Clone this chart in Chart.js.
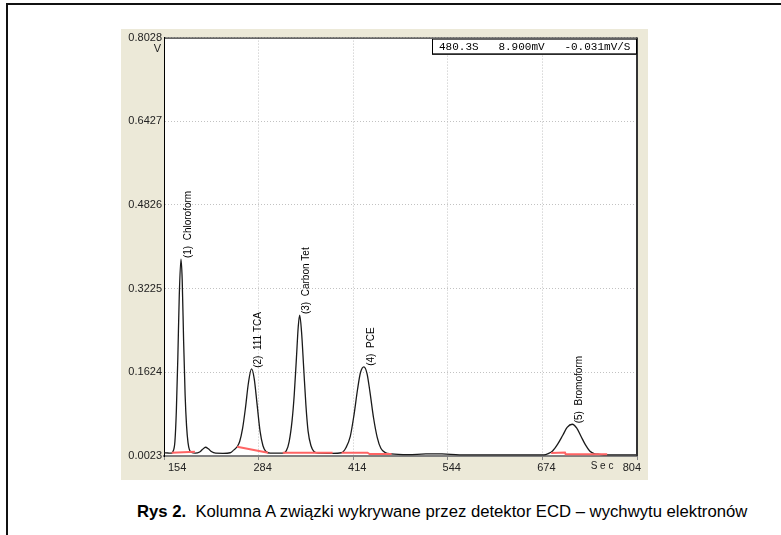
<!DOCTYPE html>
<html>
<head>
<meta charset="utf-8">
<script src="https://cdn.jsdelivr.net/npm/chart.js@4/dist/chart.umd.min.js"></script>
<style>
  html, body { margin: 0; padding: 0; background: #fff; }
  body { width: 781px; height: 535px; position: relative; overflow: hidden; }
  .frame { position: absolute; left: 6px; top: 3px; width: 900px; height: 600px;
           border-left: 2px solid #111; border-top: 2px solid #111; }
  .panel { position: absolute; left: 121px; top: 29px; width: 527px; height: 451px; background: #ECE9D8; }
  #chromChart { position: absolute; left: 121px; top: 29px; }
  .caption { position: absolute; left: 137px; top: 502px; font: 16.7px "Liberation Sans", Arial, sans-serif;
             color: #000; white-space: nowrap; }
  .caption b { font-weight: bold; }
</style>
</head>
<body>
<div class="frame"></div>
<div class="panel"></div>
<canvas id="chromChart" width="527" height="451"></canvas>
<div class="caption"><b>Rys 2.</b>&nbsp; Kolumna A związki wykrywane przez detektor ECD – wychwytu elektronów</div>

<script>
/* ================================================================
   Chromatogram — Kolumna A, detektor ECD
   • black trace = detector signal (V) vs time (s)
   • red segments = integration baselines under each peak
================================================================ */

/* ── Axis ticks ── */
const xTicks = [154, 284, 414, 544, 674, 804];
const yTicks = [0.0023, 0.1624, 0.3225, 0.4826, 0.6427, 0.8028];

/* ── Detector signal ── */
const traceTime = [
  154, 160, 164.6, 166, 169, 171, 173, 175, 177.3, 179, 181, 183, 185, 187, 189, 192, 197,
  203, 207, 211, 215, 219, 225, 235, 245, 250, 254.5, 258, 262, 266, 270, 274.3, 278, 282,
  286, 290, 294, 300, 317, 322, 326, 330, 333, 336, 338.5, 340.5, 343, 346, 349, 352, 356,
  360, 366, 385, 398, 404, 410, 415, 420, 424, 428.7, 433, 437, 442, 447, 452, 458, 466,
  490, 514, 536, 560, 620, 676, 682, 688, 695, 702, 708, 715, 721, 727, 733, 739, 745,
  752, 765, 804
];
const traceVolt = [
  0.0085, 0.0080, 0.0078, 0.010, 0.030, 0.090, 0.190, 0.310, 0.379, 0.340, 0.220, 0.120, 0.060, 0.028, 0.014, 0.009, 0.0078,
  0.010, 0.015, 0.019, 0.016, 0.011, 0.0078, 0.0075, 0.0085, 0.014, 0.020, 0.030, 0.055, 0.095, 0.142, 0.169, 0.150, 0.100,
  0.050, 0.022, 0.011, 0.0078, 0.0078, 0.012, 0.030, 0.070, 0.120, 0.190, 0.250, 0.272, 0.240, 0.170, 0.100, 0.050, 0.022,
  0.011, 0.0078, 0.0075, 0.0085, 0.018, 0.040, 0.080, 0.130, 0.162, 0.173, 0.160, 0.125, 0.075, 0.038, 0.017, 0.009, 0.0065,
  0.005, 0.0062, 0.0062, 0.0045, 0.0045, 0.0045, 0.007, 0.012, 0.025, 0.042, 0.057, 0.063, 0.056, 0.040, 0.024, 0.012, 0.007,
  0.0055, 0.0045, 0.0045
];

/* ── Integration baselines (null = gap between segments) ── */
const baseTime = [164.6, 196.5, 200, 254.5, 297, 300, 317.2, 385.7, 390, 398, 433.7, 436.5, 466.7, 470, 686, 705, 706, 763];
const baseVolt = [0.0085, 0.0105, null, 0.020, 0.0086, null, 0.0086, 0.0086, null, 0.0086, 0.0086, 0.0061, 0.0061, null, 0.0080, 0.0090, 0.0058, 0.0058];

/* ── Peak annotations ── */
const peakNames   = ["(1)  Chloroform", "(2)  111 TCA", "(3)  Carbon Tet", "(4)  PCE", "(5)  Bromoform"];
const peakTimes   = [177.3, 274.3, 340.5, 428.7, 715];
const peakHeights = [0.379, 0.169, 0.272, 0.173, 0.063];

/* ── Cursor readout ── */
const readout = "480.3S   8.900mV   -0.031mV/S";
const SEC_AT  = 756;

/* ================================================================
   STYLE
================================================================ */
const FONT = '"Liberation Sans", Arial, sans-serif';
const MONO = '"Liberation Mono", "Courier New", monospace';
const GRID = "#c2c2c2";
const TICK = "#222";

const toPts = (xs, ys) => xs.map((x, i) => ({ x, y: ys[i] }));

/* white plot area on the beige panel */
const plotBg = {
  id: "plotBg",
  beforeDraw(chart) {
    const { ctx, chartArea: a } = chart;
    ctx.save();
    ctx.fillStyle = "#fff";
    ctx.fillRect(a.left, a.top, a.right - a.left, a.bottom - a.top);
    ctx.restore();
  },
};

/* frame, readout box, unit labels, peak names */
const overlay = {
  id: "overlay",
  afterDraw(chart) {
    const { ctx, chartArea: a, scales } = chart;
    ctx.save();
    ctx.setLineDash([]);

    /* top + right frame */
    ctx.strokeStyle = "#000"; ctx.lineWidth = 1;
    ctx.beginPath(); ctx.moveTo(a.left, a.top + 0.5); ctx.lineTo(a.right, a.top + 0.5); ctx.stroke();
    ctx.strokeStyle = "#333"; ctx.lineWidth = 2;
    ctx.beginPath(); ctx.moveTo(a.right, a.top); ctx.lineTo(a.right, a.bottom); ctx.stroke();

    /* readout box */
    const bw = 205, bh = 16, bx = a.right - bw, by = a.top + 1;
    ctx.fillStyle = "#fff"; ctx.fillRect(bx, by, bw, bh);
    ctx.strokeStyle = "#000"; ctx.lineWidth = 1;
    ctx.strokeRect(bx + 0.5, by + 0.5, bw - 1, bh - 1);
    ctx.beginPath(); ctx.moveTo(bx, by + bh - 0.5); ctx.lineTo(bx + bw, by + bh - 0.5); ctx.stroke();
    ctx.fillStyle = "#000"; ctx.font = "11px " + MONO;
    ctx.textAlign = "left"; ctx.textBaseline = "middle";
    ctx.fillText(readout, bx + 7, by + bh / 2);

    /* units */
    ctx.font = "11px " + FONT; ctx.fillStyle = TICK;
    ctx.textAlign = "right";
    ctx.fillText("V", a.left - 3, a.top + 11);
    ctx.textAlign = "center"; ctx.textBaseline = "top";
    ctx.font = "10px " + FONT;
    ctx.fillText("S e c", scales.x.getPixelForValue(SEC_AT), a.bottom + 5);

    /* peak names, rotated */
    ctx.font = "10px " + FONT; ctx.fillStyle = "#000";
    ctx.textAlign = "left"; ctx.textBaseline = "middle";
    peakNames.forEach((name, i) => {
      const px = scales.x.getPixelForValue(peakTimes[i]);
      const py = scales.y.getPixelForValue(peakHeights[i]);
      ctx.save();
      ctx.translate(px + 7, py - 1);
      ctx.rotate(-Math.PI / 2);
      ctx.fillText(name, 0, 0);
      ctx.restore();
    });
    ctx.restore();
  },
};

/* ================================================================
   CHART
================================================================ */
const chromChart = new Chart(document.getElementById("chromChart").getContext("2d"), {
  type: "line",
  data: {
    datasets: [
      { label: "Signal", data: toPts(traceTime, traceVolt), borderColor: "#1a1a1a", borderWidth: 1.3,
        pointRadius: 0, tension: 0.4, cubicInterpolationMode: "monotone", fill: false, order: 2 },
      { label: "Baseline", data: toPts(baseTime, baseVolt), borderColor: "#ff6464", borderWidth: 2,
        pointRadius: 0, tension: 0, spanGaps: false, fill: false, order: 1 },
    ],
  },
  options: {
    responsive: false, animation: false, devicePixelRatio: 1,
    layout: { padding: { top: 8, right: 11, left: 0, bottom: 0 } },
    plugins: { legend: { display: false }, tooltip: { enabled: false } },
    scales: {
      x: {
        type: "linear", min: 154, max: 804,
        afterBuildTicks: s => { s.ticks = xTicks.map(v => ({ value: v })); },
        afterFit: s => { s.height = 24; },
        ticks: { color: TICK, font: { family: FONT, size: 11 }, padding: 1, labelOffset: 4,
          align: "inner", maxRotation: 0, autoSkip: false, callback: v => String(v) },
        grid: { color: GRID, tickLength: 4, tickColor: "#888", tickBorderDash: [] },
        border: { color: "#808080", width: 2, dash: [1, 2] },
      },
      y: {
        type: "linear", min: 0.0023, max: 0.8028,
        afterBuildTicks: s => { s.ticks = yTicks.map(v => ({ value: v })); },
        afterFit: s => { s.width = 43; },
        ticks: { color: TICK, font: { family: FONT, size: 11 }, padding: 2, autoSkip: false,
          callback: v => v.toFixed(4) },
        grid: { color: GRID, drawTicks: false, tickLength: 0 },
        border: { color: "#000", width: 1, dash: [1, 2] },
      },
    },
  },
  plugins: [plotBg, overlay],
});
</script>
</body>
</html>
